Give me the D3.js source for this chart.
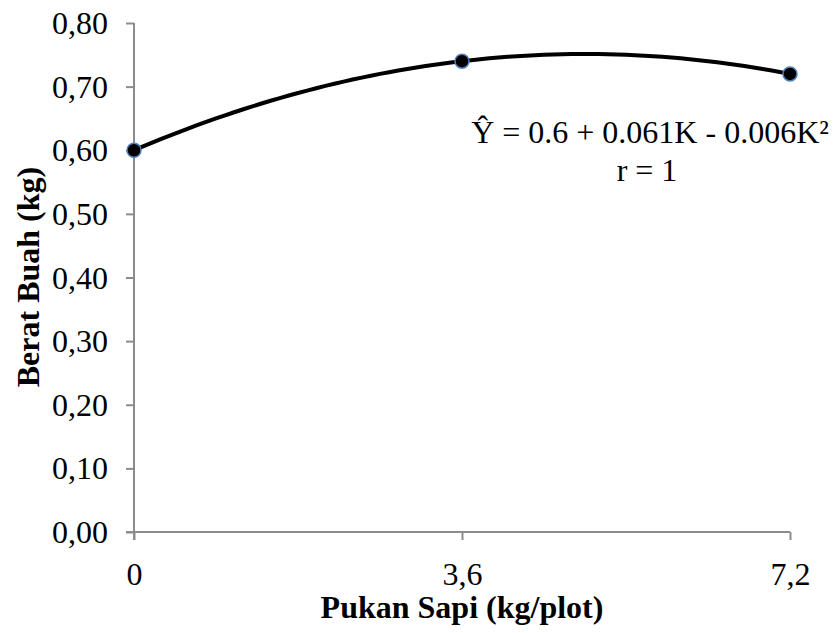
<!DOCTYPE html>
<html><head><meta charset="utf-8">
<script src="https://cdn.jsdelivr.net/npm/d3@7"></script>
<style>body{margin:0;background:#fff}svg{display:block}svg text{font-family:"Liberation Serif","Times New Roman",serif}</style>
</head><body>
<script>
const xValues = [0, 3.6, 7.2];
const xLabels = ["0", "3,6", "7,2"];
const yValues = [0.60, 0.74, 0.72];
const yTicks = [0, 0.1, 0.2, 0.3, 0.4, 0.5, 0.6, 0.7, 0.8];
const equationLines = ["Ŷ = 0.6 + 0.061K - 0.006K²", "r = 1"];

const W = 835, H = 633;
const svg = d3.select("body").append("svg").attr("width", W).attr("height", H);
const font = "Liberation Serif";
const x = d3.scaleLinear().domain([0, 7.2]).range([134, 790]);
const y = d3.scaleLinear().domain([0, 0.8]).range([532, 23]);

const fmt = v => v.toFixed(2).replace(".", ",");
const axisColor = "#8c8c8c";
const fs = 32;

// y axis
const ya = svg.append("g").attr("transform", "translate(134,0)")
  .call(d3.axisLeft(y).tickValues(yTicks).tickFormat(fmt).tickSize(8).tickPadding(18));
ya.attr("font-family", font).attr("font-size", fs);
ya.select(".domain").attr("stroke", axisColor).attr("stroke-width", 2).attr("d", "M0,23V540");
ya.selectAll(".tick line").attr("stroke", axisColor).attr("stroke-width", 2);
ya.selectAll("text").attr("fill", "#000").attr("x", -26).attr("dy", "0.33em");

// x axis
const xa = svg.append("g").attr("transform", "translate(0,532)")
  .call(d3.axisBottom(x).tickValues(xValues).tickFormat((d, i) => xLabels[i]).tickSize(8));
xa.attr("font-family", font).attr("font-size", fs);
xa.select(".domain").attr("stroke", axisColor).attr("stroke-width", 2).attr("d", "M126,0H790");
xa.selectAll(".tick line").attr("stroke", axisColor).attr("stroke-width", 2);
xa.selectAll("text").attr("fill", "#000").attr("y", 53).attr("dy", 0);

// quadratic trendline fitted through the data points (as the chart's regression, r = 1)
const pts = xValues.map((v, i) => [v, yValues[i]]);
const quadFit = k => {
  let s = 0;
  for (let i = 0; i < 3; i++) {
    let l = 1;
    for (let j = 0; j < 3; j++) if (j !== i) l *= (k - xValues[j]) / (xValues[i] - xValues[j]);
    s += yValues[i] * l;
  }
  return s;
};
const trend = d3.range(0, 7.2001, 0.1).map(k => [k, quadFit(k)]);
svg.append("path").datum(trend)
  .attr("d", d3.line().x(d => x(d[0])).y(d => y(d[1])).curve(d3.curveBasis))
  .attr("fill", "none").attr("stroke", "#000").attr("stroke-width", 4);

svg.selectAll("circle.pt").data(pts).join("circle").attr("class", "pt")
  .attr("cx", d => x(d[0])).attr("cy", d => y(d[1])).attr("r", 7)
  .attr("fill", "#000").attr("stroke", "#4f81bd").attr("stroke-width", 1.5);

// equation
svg.append("text").attr("x", 650).attr("y", 143).attr("text-anchor", "middle")
  .attr("font-size", fs).text(equationLines[0]);
svg.append("text").attr("x", 647).attr("y", 181).attr("text-anchor", "middle")
  .attr("font-size", fs).text(equationLines[1]);

// axis titles
svg.append("text").attr("x", 462).attr("y", 618).attr("text-anchor", "middle")
  .attr("font-size", fs).attr("font-weight", "bold").text("Pukan Sapi (kg/plot)");
svg.append("text").attr("transform", "translate(39,277) rotate(-90)").attr("text-anchor", "middle")
  .attr("font-size", fs).attr("font-weight", "bold").text("Berat Buah (kg)");
</script>
</body></html>
